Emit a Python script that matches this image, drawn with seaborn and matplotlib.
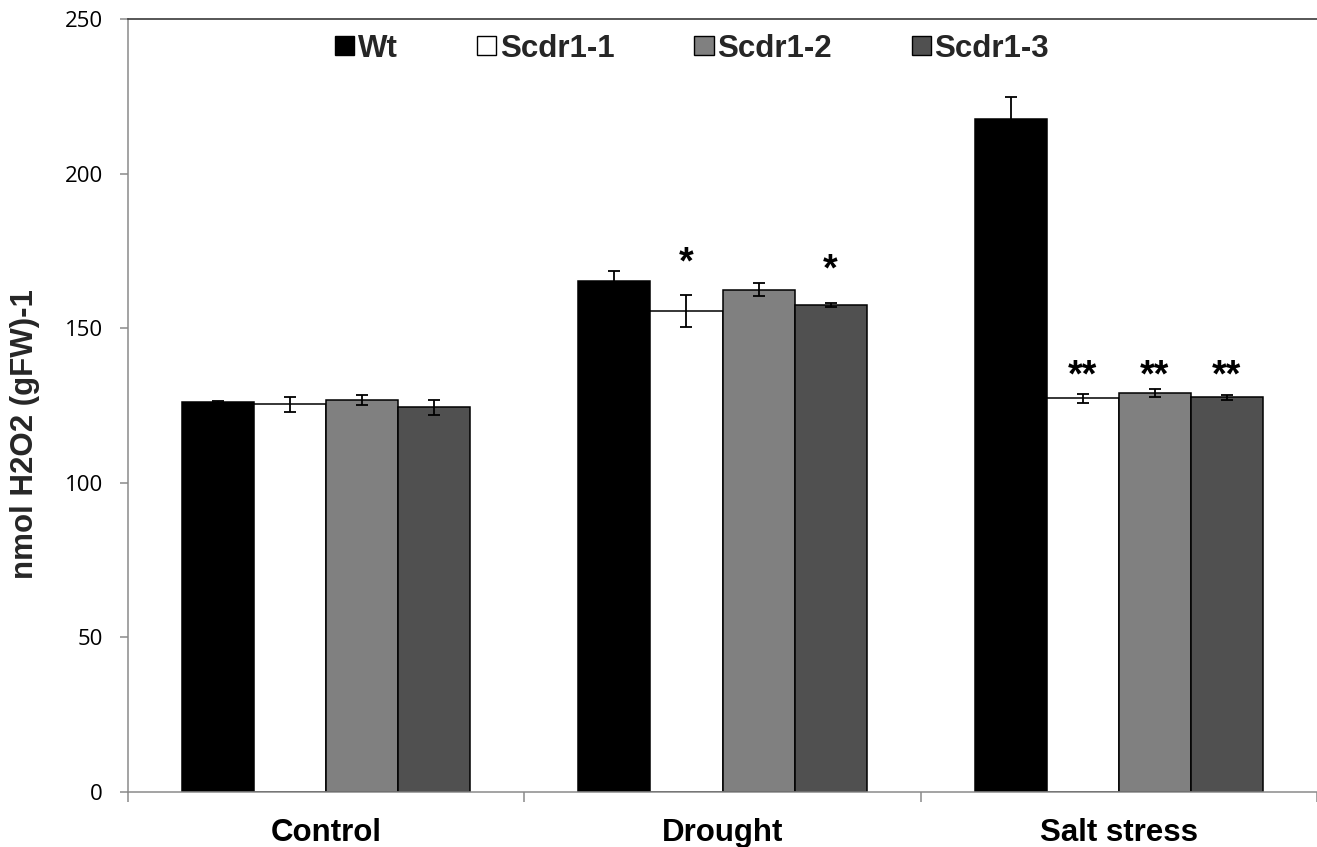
import matplotlib
matplotlib.use("Agg")
import matplotlib.pyplot as plt
from matplotlib.patches import Patch
import seaborn as sns
import pandas as pd

# ---- data ----
conditions = ["Control", "Drought", "Salt stress"]
lines = ["Wt", "Scdr1-1", "Scdr1-2", "Scdr1-3"]
wt = [126.0, 165.4, 217.6]
scdr1_1 = [125.4, 155.6, 127.3]
scdr1_2 = [126.8, 162.4, 129.0]
scdr1_3 = [124.4, 157.5, 127.6]
err_wt = [0.5, 3.1, 7.3]
err_scdr1_1 = [2.5, 5.2, 1.5]
err_scdr1_2 = [1.5, 2.1, 1.4]
err_scdr1_3 = [2.5, 0.7, 0.8]
# significance marks (label, level in data units) per line x condition
stars_scdr1_1 = ["", "*", "**"]
stars_scdr1_2 = ["", "", "**"]
stars_scdr1_3 = ["", "*", "**"]
star_level = [None, 171.0, 134.5]
star_level_scdr1_3 = [None, 168.8, 134.5]
y_ticks = [0, 50, 100, 150, 200, 250]

values = [wt, scdr1_1, scdr1_2, scdr1_3]
errors = [err_wt, err_scdr1_1, err_scdr1_2, err_scdr1_3]
stars = [["", "", ""], stars_scdr1_1, stars_scdr1_2, stars_scdr1_3]
star_levels = [star_level, star_level, star_level, star_level_scdr1_3]

rows = []
for ln, vals in zip(lines, values):
    for c, v in zip(conditions, vals):
        rows.append({"condition": c, "line": ln, "value": v})
df = pd.DataFrame(rows)

colors = {"Wt": "#000000", "Scdr1-1": "#ffffff", "Scdr1-2": "#808080", "Scdr1-3": "#505050"}

sns.set_theme(style="white")
plt.rcParams["font.family"] = ["Liberation Sans", "DejaVu Sans"]

fig = plt.figure(figsize=(13.17, 8.47), dpi=100)
ax = fig.add_axes([128 / 1317, 1 - 792 / 847, 1 - 128 / 1317, (792 - 19) / 847])

sns.barplot(data=df, x="condition", y="value", hue="line", order=conditions,
            hue_order=lines, palette=colors, width=0.727, errorbar=None,
            edgecolor="black", linewidth=1.1, legend=False, ax=ax, zorder=2)

bar_containers = list(ax.containers)
for i, cont in enumerate(bar_containers):
    xs = [b.get_x() + b.get_width() / 2 for b in cont]
    ax.errorbar(xs, values[i], yerr=errors[i], fmt="none", ecolor="black",
                elinewidth=1.3, capsize=4.5, capthick=1.3, zorder=3)
    for j, x in enumerate(xs):
        if stars[i][j]:
            ax.text(x, star_levels[i][j], stars[i][j], ha="center", va="center",
                    fontsize=27, fontweight="bold", color="black",
                    family=["Liberation Sans", "DejaVu Sans"])

ax.set_ylim(0, 250)
ax.set_xlim(-0.5, 2.5)
ax.set_yticks(y_ticks)
ax.set_yticklabels([str(t) for t in y_ticks], fontsize=16, family=["Open Sans", "DejaVu Sans"])
ax.set_xticks([0, 1, 2])
ax.set_xticklabels(conditions, fontsize=22.5, fontweight="bold")
ax.set_xticks([-0.5, 0.5, 1.5, 2.5], minor=True)
ax.tick_params(axis="x", which="major", length=0, pad=19, colors="black")
ax.tick_params(axis="x", which="minor", length=7, width=1.1, color="#8a8a8a", direction="out", bottom=True)
ax.tick_params(axis="y", which="major", length=6, width=1.1, color="#8a8a8a", direction="out", left=True, pad=12, labelcolor="black")

ax.set_xlabel("")
ax.set_ylabel("nmol H2O2 (gFW)-1", fontsize=22.5, fontweight="bold")
ax.yaxis.set_label_coords(-0.074, 0.463)

for s in ["left", "bottom"]:
    ax.spines[s].set_color("#8a8a8a")
    ax.spines[s].set_linewidth(1.1)
ax.spines["top"].set_color("#3a3a3a")
ax.spines["top"].set_linewidth(1.2)
ax.spines["right"].set_visible(False)

handles = [Patch(facecolor=colors[l], edgecolor="black", linewidth=1.0, label=l) for l in lines]
fig.legend(handles=handles, loc="center", bbox_to_anchor=(692 / 1317, 1 - 49 / 847),
           ncol=4, frameon=False, prop={"family": "Liberation Sans", "weight": "bold", "size": 22.5},
           handlelength=0.61, handleheight=0.56, handletextpad=0.12, columnspacing=2.55,
           borderpad=0, borderaxespad=0)

fig.savefig("out.png", dpi=100)
